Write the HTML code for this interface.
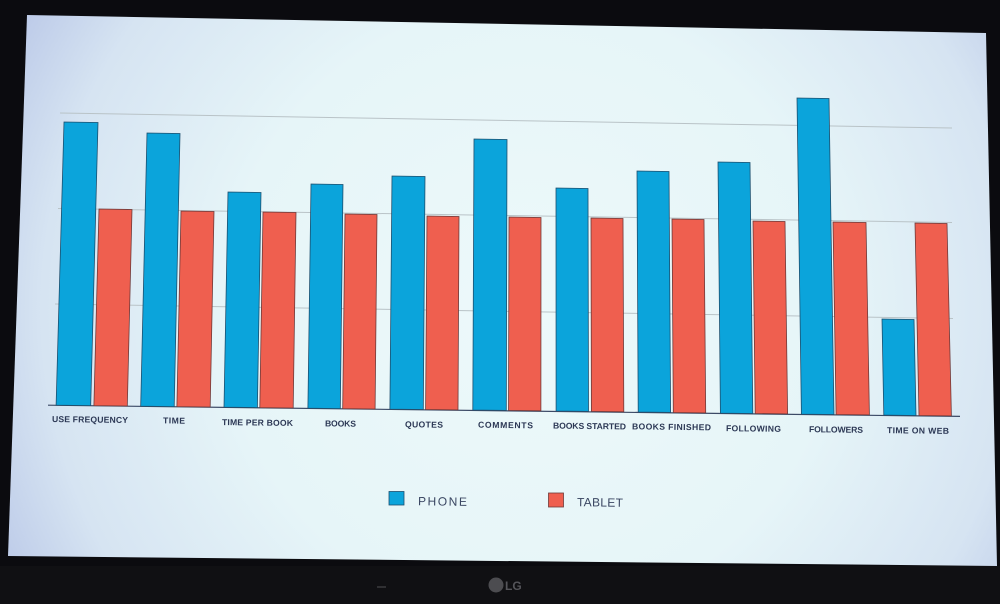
<!DOCTYPE html>
<html><head><meta charset="utf-8"><style>
html,body{margin:0;padding:0;background:#0b0b0f;}
svg{display:block;}
</style></head><body>
<svg width="1000" height="604" viewBox="0 0 1000 604" xmlns="http://www.w3.org/2000/svg">
<defs>
<radialGradient id="scr" gradientUnits="userSpaceOnUse" cx="530" cy="310" r="610">
<stop offset="0" stop-color="#edf9fa"/>
<stop offset="0.5" stop-color="#e6f5f8"/>
<stop offset="0.8" stop-color="#d6e4f2"/>
<stop offset="1" stop-color="#b6c4e6"/>
</radialGradient>
</defs>
<rect x="0" y="0" width="1000" height="604" fill="#0b0b0f"/>
<rect x="0" y="566" width="1000" height="38" fill="#101013"/>
<polygon points="27,15 986,33 997,566 8,556" fill="url(#scr)"/>

<!-- gridlines -->
<g stroke="#b9c3c7" stroke-width="1" fill="none">
<line x1="60" y1="113" x2="952" y2="128"/>
<line x1="58" y1="208.5" x2="952" y2="222.5"/>
<line x1="55" y1="304" x2="953" y2="318.5"/>
</g>
<line x1="48" y1="405.2" x2="960" y2="416.4" stroke="#3c4a66" stroke-width="1.2"/>

<!-- phone bars -->
<g fill="#0ba4db" stroke="#1d4f6e" stroke-width="0.8">
<polygon points="64,122 98,122.5 90.7,405.6 56.1,405.2"/>
<polygon points="147,133 180,133.5 174.2,406.6 140.7,406.2"/>
<polygon points="228,192 261,192.5 257.4,407.6 224,407.2"/>
<polygon points="311,184 343,184.5 340.3,408.6 307.9,408.2"/>
<polygon points="392,176 425,176.5 423.3,409.5 389.9,409.1"/>
<polygon points="474,139 507,139.5 506.3,410.4 472.8,410"/>
<polygon points="556,188 588,188.5 588.5,411.4 556.1,411"/>
<polygon points="637,171 669,171.5 670.6,412.4 638.2,412"/>
<polygon points="718,162 750,162.5 752.8,413.5 720.4,413.1"/>
<polygon points="797,98 829,98.5 834,414.5 801.4,414.1"/>
<polygon points="882,319 914,319.5 916,415.5 883.8,415.1"/>
</g>
<!-- tablet bars -->
<g fill="#ef5f4f" stroke="#6e3a3a" stroke-width="0.8">
<polygon points="99,209 132,209.5 127.3,406 93.9,405.6"/>
<polygon points="181,211 214,211.5 210.2,407 176.9,406.6"/>
<polygon points="263,212 296,212.5 293.2,408 259.8,407.6"/>
<polygon points="345,214 377,214.5 375.1,409 342.7,408.6"/>
<polygon points="427,216 459,216.5 458,409.9 425.6,409.5"/>
<polygon points="509,217 541,217.5 540.9,410.8 508.5,410.4"/>
<polygon points="591,218 623,218.5 623.8,411.8 591.4,411.4"/>
<polygon points="672,219 704,219.5 705.7,412.9 673.3,412.5"/>
<polygon points="753,221 785,221.5 787.6,413.9 755.2,413.5"/>
<polygon points="833,222 866,222.5 869.4,414.9 836.1,414.5"/>
<polygon points="915,223 947,223.5 951.4,415.9 919,415.5"/>
</g>

<!-- category labels -->
<g font-family="Liberation Sans, sans-serif" font-weight="bold" font-size="8.6" fill="#2b3754" lengthAdjust="spacing">
<text x="52" y="422.5" textLength="76" transform="rotate(0.7 90 419)">USE FREQUENCY</text>
<text x="163" y="423.5" textLength="22" transform="rotate(0.7 174 420)">TIME</text>
<text x="222" y="425.5" textLength="71" transform="rotate(0.7 257 422)">TIME PER BOOK</text>
<text x="325" y="426.5" textLength="31" transform="rotate(0.7 340 423)">BOOKS</text>
<text x="405" y="427.5" textLength="38" transform="rotate(0.7 424 424)">QUOTES</text>
<text x="478" y="428" textLength="55" transform="rotate(0.7 505 424)">COMMENTS</text>
<text x="553" y="429" textLength="73" transform="rotate(0.7 589 425)">BOOKS STARTED</text>
<text x="632" y="429.8" textLength="79" transform="rotate(0.7 671 426)">BOOKS FINISHED</text>
<text x="726" y="431.5" textLength="55" transform="rotate(0.7 753 428)">FOLLOWING</text>
<text x="809" y="432.5" textLength="54" transform="rotate(0.7 836 429)">FOLLOWERS</text>
<text x="887" y="433.5" textLength="62" transform="rotate(0.7 918 430)">TIME ON WEB</text>
</g>

<!-- legend -->
<rect x="389" y="491.5" width="15" height="13.5" fill="#0ba4db" stroke="#1d4f6e" stroke-width="0.8"/>
<rect x="548.5" y="493" width="15" height="14" fill="#ef5f4f" stroke="#6e3a3a" stroke-width="0.8"/>
<g font-family="Liberation Sans, sans-serif" font-size="12" fill="#3a4662" lengthAdjust="spacing">
<text x="418" y="505.5" textLength="49" transform="rotate(0.7 442 501)">PHONE</text>
<text x="577" y="506.5" textLength="46" transform="rotate(0.7 600 502)">TABLET</text>
</g>

<!-- TV bezel logo -->
<line x1="377" y1="587" x2="386" y2="587" stroke="#3a3a3e" stroke-width="1.5"/>
<circle cx="496" cy="585" r="7.5" fill="#4c4c50"/>
<text x="505" y="590" font-family="Liberation Sans, sans-serif" font-weight="bold" font-size="12" fill="#55555a">LG</text>
</svg>
</body></html>
